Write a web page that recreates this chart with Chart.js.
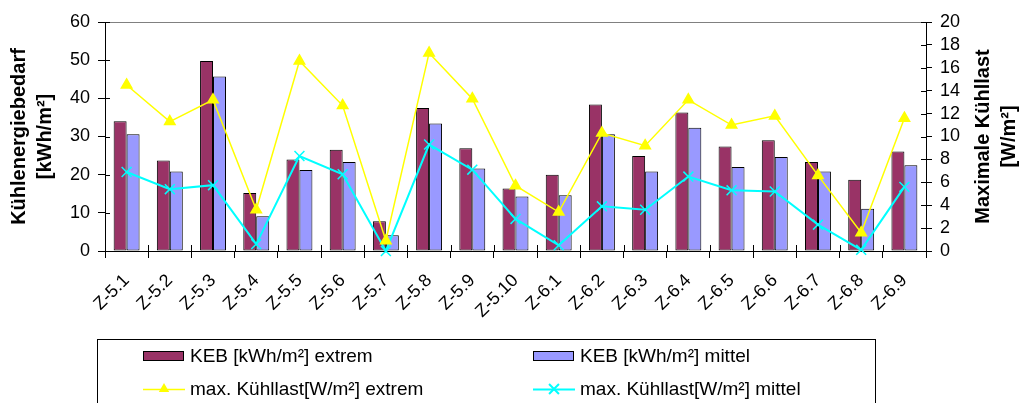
<!DOCTYPE html>
<html>
<head>
<meta charset="utf-8">
<script src="https://cdn.jsdelivr.net/npm/chart.js@4/dist/chart.umd.min.js"></script>
<style>
  html, body { margin: 0; padding: 0; background: #fff; }
  #wrap { width: 1029px; height: 403px; }
</style>
</head>
<body>
<div id="wrap"><canvas id="kuehlChart" width="1029" height="403"></canvas></div>
<script>
'use strict';

const categories = ['Z-5.1','Z-5.2','Z-5.3','Z-5.4','Z-5.5','Z-5.6','Z-5.7','Z-5.8','Z-5.9','Z-5.10',
                    'Z-6.1','Z-6.2','Z-6.3','Z-6.4','Z-6.5','Z-6.6','Z-6.7','Z-6.8','Z-6.9'];
const kebExtrem  = [34.0, 23.7, 49.8, 15.2, 24.0, 26.5, 7.8, 37.5, 26.9, 16.4, 20.0, 38.4, 24.9, 36.3, 27.4, 29.0, 23.3, 18.7, 26.1];
const kebMittel  = [30.6, 20.8, 45.7, 9.1, 21.2, 23.3, 4.1, 33.4, 21.6, 14.3, 14.6, 30.6, 20.8, 32.3, 22.0, 24.6, 20.8, 11.1, 22.5];
const lastExtrem = [14.5, 11.3, 13.2, 3.6, 16.6, 12.7, 0.9, 17.3, 13.3, 5.7, 3.4, 10.3, 9.2, 13.2, 11.0, 11.8, 6.6, 1.6, 11.6];
const lastMittel = [6.9, 5.4, 5.75, 0.6, 8.3, 6.7, 0.0, 9.3, 7.1, 2.8, 0.5, 3.9, 3.6, 6.5, 5.3, 5.2, 2.3, 0.1, 5.6];

const leftTitle  = ['Kühlenergiebedarf', '[kWh/m²]'];
const rightTitle = ['Maximale Kühllast', '[W/m²]'];
const seriesLabels = ['KEB [kWh/m²] extrem', 'KEB [kWh/m²] mittel', 'max. Kühllast[W/m²] extrem', 'max. Kühllast[W/m²] mittel'];

const FONT = "'Liberation Sans', Arial, sans-serif";
Chart.defaults.font.family = FONT;
Chart.defaults.color = '#000';

// inner half of the "cross" tick marks + rotated axis titles
const axisExtras = {
  id: 'axisExtras',
  afterDraw(chart) {
    const { ctx, chartArea: a, scales } = chart;
    ctx.save();
    ctx.strokeStyle = '#000';
    ctx.lineWidth = 1;
    ctx.beginPath();
    const step = (a.right - a.left) / categories.length;
    for (let i = 0; i <= categories.length; i++) {
      const px = Math.round(a.left + i * step) + 0.5;
      ctx.moveTo(px, a.bottom); ctx.lineTo(px, a.bottom - 6);
    }
    scales.y.ticks.forEach((t, i) => {
      const py = Math.round(scales.y.getPixelForTick(i)) + 0.5;
      ctx.moveTo(a.left, py); ctx.lineTo(a.left + 5, py);
    });
    scales.y2.ticks.forEach((t, i) => {
      const py = Math.round(scales.y2.getPixelForTick(i)) + 0.5;
      ctx.moveTo(a.right, py); ctx.lineTo(a.right - 5, py);
    });
    ctx.stroke();

    ctx.font = 'bold 20px ' + FONT;
    ctx.fillStyle = '#000';
    ctx.textAlign = 'center';
    ctx.textBaseline = 'middle';
    const midY = (a.top + a.bottom) / 2;
    [[leftTitle, 19], [rightTitle, 983]].forEach(([lines, x0]) => {
      lines.forEach((txt, i) => {
        ctx.save();
        ctx.translate(x0 + i * 26, midY);
        ctx.rotate(-Math.PI / 2);
        ctx.fillText(txt, 0, 0);
        ctx.restore();
      });
    });
    ctx.restore();
  },
};

const boxLegend = {
  id: 'boxLegend',
  afterDraw(chart) {
    const ctx = chart.ctx;
    ctx.save();
    ctx.strokeStyle = '#000';
    ctx.lineWidth = 1;
    ctx.strokeRect(97.5, 339.5, 778, 80);
    const cols = [143, 533], rows = [356, 389];
    ctx.font = '19px ' + FONT;
    ctx.textBaseline = 'middle';
    ctx.textAlign = 'left';
    chart.data.datasets.forEach((ds, i) => {
      const x = cols[i % 2], y = rows[Math.floor(i / 2)];
      if (ds.type === 'line') {
        ctx.strokeStyle = ds.borderColor;
        ctx.lineWidth = ds.borderWidth;
        ctx.beginPath(); ctx.moveTo(x, y + 0.5); ctx.lineTo(x + 42, y + 0.5); ctx.stroke();
        const cx = x + 21, r = ds.pointRadius;
        ctx.beginPath();
        if (ds.pointStyle === 'triangle') {
          ctx.fillStyle = ds.pointBackgroundColor;
          ctx.moveTo(cx, y - r);
          ctx.lineTo(cx + r * 0.866, y + r / 2);
          ctx.lineTo(cx - r * 0.866, y + r / 2);
          ctx.closePath();
          ctx.fill();
        } else {
          const d = r * 0.707;
          ctx.moveTo(cx - d, y - d); ctx.lineTo(cx + d, y + d);
          ctx.moveTo(cx + d, y - d); ctx.lineTo(cx - d, y + d);
          ctx.stroke();
        }
      } else {
        ctx.fillStyle = ds.backgroundColor;
        ctx.fillRect(x, y - 5, 41, 10);
        ctx.strokeStyle = '#000';
        ctx.lineWidth = 1;
        ctx.strokeRect(x + 0.5, y - 4.5, 40, 9);
      }
      ctx.fillStyle = '#000';
      ctx.fillText(ds.label, x + 47, y + 1);
    });
    ctx.restore();
  },
};

new Chart(document.getElementById('kuehlChart'), {
  type: 'bar',
  data: {
    labels: categories,
    datasets: [
      { type: 'bar', label: seriesLabels[0], data: kebExtrem, yAxisID: 'y', order: 2,
        backgroundColor: '#993366', borderColor: '#000', borderWidth: 1, borderSkipped: false,
        categoryPercentage: 0.6, barPercentage: 1 },
      { type: 'bar', label: seriesLabels[1], data: kebMittel, yAxisID: 'y', order: 2,
        backgroundColor: '#9999FF', borderColor: '#000', borderWidth: 1, borderSkipped: false,
        categoryPercentage: 0.6, barPercentage: 1 },
      { type: 'line', label: seriesLabels[2], data: lastExtrem, yAxisID: 'y2', order: 0,
        borderColor: '#FFFF00', borderWidth: 1.5, pointStyle: 'triangle', pointRadius: 6,
        pointBackgroundColor: '#FFFF00', pointBorderColor: '#FFFF00', tension: 0, clip: false },
      { type: 'line', label: seriesLabels[3], data: lastMittel, yAxisID: 'y2', order: 1,
        borderColor: '#00FFFF', borderWidth: 2, pointStyle: 'crossRot', pointRadius: 7,
        pointBorderColor: '#00FFFF', pointBorderWidth: 1.5, tension: 0, clip: false },
    ],
  },
  options: {
    responsive: false,
    devicePixelRatio: 1,
    animation: false,
    layout: { padding: { top: 22, left: 0, right: 0, bottom: 67 } },
    plugins: { legend: { display: false }, tooltip: { enabled: false } },
    scales: {
      x: {
        offset: true,
        afterFit(s) { s.height = 85; },
        border: { display: true, color: '#000', width: 1 },
        grid: { offset: true, drawOnChartArea: false, tickLength: 7, tickColor: '#000' },
        ticks: { font: { size: 18 }, minRotation: 45, maxRotation: 45, padding: 12, autoSkip: false },
      },
      y: {
        position: 'left',
        min: 0, max: 60,
        afterFit(s) { s.width = 105; },
        border: { display: true, color: '#000', width: 1 },
        grid: { color: c => (c.tick && c.tick.value === 60 ? '#808080' : 'rgba(0,0,0,0)'),
                tickColor: '#000', tickLength: 7 },
        ticks: { stepSize: 10, font: { size: 18 }, padding: 8, autoSkip: false },
      },
      y2: {
        position: 'right',
        min: 0, max: 20,
        afterFit(s) { s.width = 103; },
        border: { display: true, color: '#000', width: 1 },
        grid: { drawOnChartArea: false, tickColor: '#000', tickLength: 6 },
        ticks: { stepSize: 2, font: { size: 18 }, padding: 8, autoSkip: false },
      },
    },
  },
  plugins: [axisExtras, boxLegend],
});
</script>
</body>
</html>
